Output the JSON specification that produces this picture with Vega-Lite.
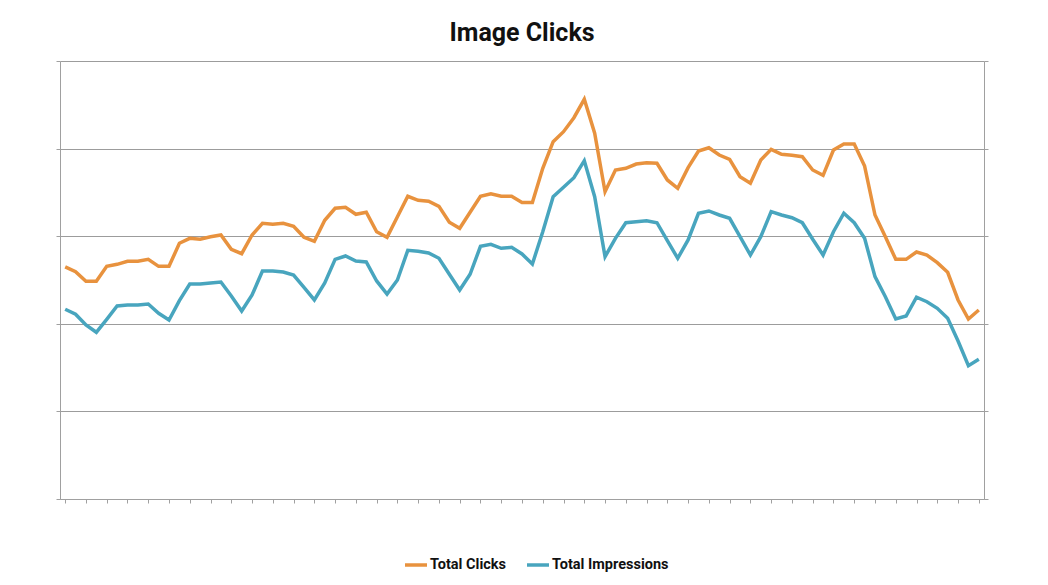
{
  "$schema": "https://vega.github.io/schema/vega-lite/v6.json",
  "width": 924,
  "height": 438,
  "autosize": "none",
  "padding": {"left": 60, "top": 61, "right": 64, "bottom": 86},
  "background": "white",
  "title": {"text": "Image Clicks", "font": "Roboto, sans-serif", "fontSize": 25, "fontWeight": "bold", "color": "#111111", "anchor": "middle", "offset": 15},
  "config": {"view": {"stroke": null}},
  "data": {"values": [
    {"i":0,"clicks":26500,"impr":21660},{"i":1,"clicks":25950,"impr":21090},{"i":2,"clicks":24850,"impr":19860},{"i":3,"clicks":24850,"impr":19030},
    {"i":4,"clicks":26560,"impr":20510},{"i":5,"clicks":26790,"impr":22030},{"i":6,"clicks":27140,"impr":22150},{"i":7,"clicks":27140,"impr":22150},
    {"i":8,"clicks":27360,"impr":22260},{"i":9,"clicks":26560,"impr":21200},{"i":10,"clicks":26560,"impr":20430},{"i":11,"clicks":29190,"impr":22640},
    {"i":12,"clicks":29760,"impr":24540},{"i":13,"clicks":29650,"impr":24540},{"i":14,"clicks":29940,"impr":24660},{"i":15,"clicks":30140,"impr":24770},
    {"i":16,"clicks":28510,"impr":23170},{"i":17,"clicks":28000,"impr":21460},{"i":18,"clicks":30140,"impr":23290},{"i":19,"clicks":31470,"impr":26030},
    {"i":20,"clicks":31360,"impr":26030},{"i":21,"clicks":31470,"impr":25910},{"i":22,"clicks":31130,"impr":25570},{"i":23,"clicks":29880,"impr":24170},
    {"i":24,"clicks":29420,"impr":22720},{"i":25,"clicks":31820,"impr":24660},{"i":26,"clicks":33190,"impr":27360},{"i":27,"clicks":33300,"impr":27740},
    {"i":28,"clicks":32500,"impr":27170},{"i":29,"clicks":32730,"impr":27060},{"i":30,"clicks":30510,"impr":24890},{"i":31,"clicks":29880,"impr":23400},
    {"i":32,"clicks":32230,"impr":25000},{"i":33,"clicks":34560,"impr":28390},{"i":34,"clicks":34100,"impr":28280},{"i":35,"clicks":33990,"impr":28080},
    {"i":36,"clicks":33410,"impr":27480},{"i":37,"clicks":31590,"impr":25650},{"i":38,"clicks":30900,"impr":23860},{"i":39,"clicks":32730,"impr":25650},
    {"i":40,"clicks":34560,"impr":28850},{"i":41,"clicks":34850,"impr":29080},{"i":42,"clicks":34560,"impr":28620},{"i":43,"clicks":34560,"impr":28730},
    {"i":44,"clicks":33850,"impr":27970},{"i":45,"clicks":33850,"impr":26830},{"i":46,"clicks":37750,"impr":30510},{"i":47,"clicks":40790,"impr":34510},
    {"i":48,"clicks":41930,"impr":35580},{"i":49,"clicks":43530,"impr":36680},{"i":50,"clicks":45630,"impr":38620},{"i":51,"clicks":41750,"impr":34510},
    {"i":52,"clicks":35080,"impr":27660},{"i":53,"clicks":37560,"impr":29760},{"i":54,"clicks":37750,"impr":31540},{"i":55,"clicks":38240,"impr":31660},
    {"i":56,"clicks":38390,"impr":31770},{"i":57,"clicks":38320,"impr":31540},{"i":58,"clicks":36420,"impr":29490},{"i":59,"clicks":35470,"impr":27480},
    {"i":60,"clicks":37820,"impr":29570},{"i":61,"clicks":39730,"impr":32620},{"i":62,"clicks":40100,"impr":32880},{"i":63,"clicks":39270,"impr":32420},
    {"i":64,"clicks":38780,"impr":32040},{"i":65,"clicks":36790,"impr":29940},{"i":66,"clicks":36040,"impr":27850},{"i":67,"clicks":38700,"impr":29940},
    {"i":68,"clicks":39920,"impr":32800},{"i":69,"clicks":39350,"impr":32420},{"i":70,"clicks":39240,"impr":32110},{"i":71,"clicks":39080,"impr":31540},
    {"i":72,"clicks":37560,"impr":29650},{"i":73,"clicks":36950,"impr":27850},{"i":74,"clicks":39840,"impr":30510},{"i":75,"clicks":40530,"impr":32620},
    {"i":76,"clicks":40530,"impr":31540},{"i":77,"clicks":38010,"impr":29760},{"i":78,"clicks":32420,"impr":25380},{"i":79,"clicks":29940,"impr":23090},
    {"i":80,"clicks":27360,"impr":20550},{"i":81,"clicks":27360,"impr":20890},{"i":82,"clicks":28200,"impr":23030},{"i":83,"clicks":27850,"impr":22520},
    {"i":84,"clicks":26980,"impr":21770},{"i":85,"clicks":25880,"impr":20630},{"i":86,"clicks":22720,"impr":18040},{"i":87,"clicks":20550,"impr":15220},
    {"i":88,"clicks":21580,"impr":15950}
  ]},
  "encoding": {
    "x": {
      "field": "i", "type": "ordinal",
      "scale": {"paddingInner": 0, "paddingOuter": 0},
      "axis": {"title": null, "labels": false, "grid": false, "bandPosition": 0,
               "values": [0,2,4,6,8,10,12,14,16,18,20,22,24,26,28,30,32,34,36,38,40,42,44,46,48,50,52,54,56,58,60,62,64,66,68,70,72,74,76,78,80,82,84,86,88],
               "domainColor": "#a0a0a0", "tickColor": "#a0a0a0", "tickSize": 4}
    }
  },
  "layer": [
    {
      "mark": {"type": "line", "strokeWidth": 3.5, "strokeJoin": "miter"},
      "encoding": {
        "y": {"field": "clicks", "type": "quantitative", "scale": {"domain": [0, 50000], "nice": false},
              "axis": {"title": null, "labels": false, "values": [0,10000,20000,30000,40000,50000], "labelOverlap": false, "gridColor": "#9c9c9c", "gridOpacity": 1, "domainColor": "#a0a0a0", "tickColor": "#a0a0a0", "tickSize": 4}},
        "color": {"datum": "Total Clicks", "type": "nominal",
                  "scale": {"domain": ["Total Clicks", "Total Impressions"], "range": ["#E8923E", "#48A5BE"]},
                  "legend": {"title": null, "orient": "none", "direction": "horizontal", "legendX": 343, "legendY": 491,
                             "symbolType": "stroke", "symbolSize": 484, "symbolStrokeWidth": 3.5,
                             "labelFont": "Roboto, sans-serif", "labelFontSize": 14.5, "labelFontWeight": "bold", "labelColor": "#111111",
                             "labelOffset": 1, "columnPadding": 14}}
      }
    },
    {
      "mark": {"type": "line", "strokeWidth": 3.5, "strokeJoin": "miter"},
      "encoding": {
        "y": {"field": "impr", "type": "quantitative", "scale": {"domain": [0, 50000], "nice": false},
              "axis": {"title": null, "orient": "right", "labels": false, "grid": false, "values": [0,10000,20000,30000,40000,50000], "domainColor": "#a0a0a0", "tickColor": "#a0a0a0", "tickSize": 4}},
        "color": {"datum": "Total Impressions", "type": "nominal"}
      }
    }
  ],
  "resolve": {"scale": {"y": "independent"}}
}
